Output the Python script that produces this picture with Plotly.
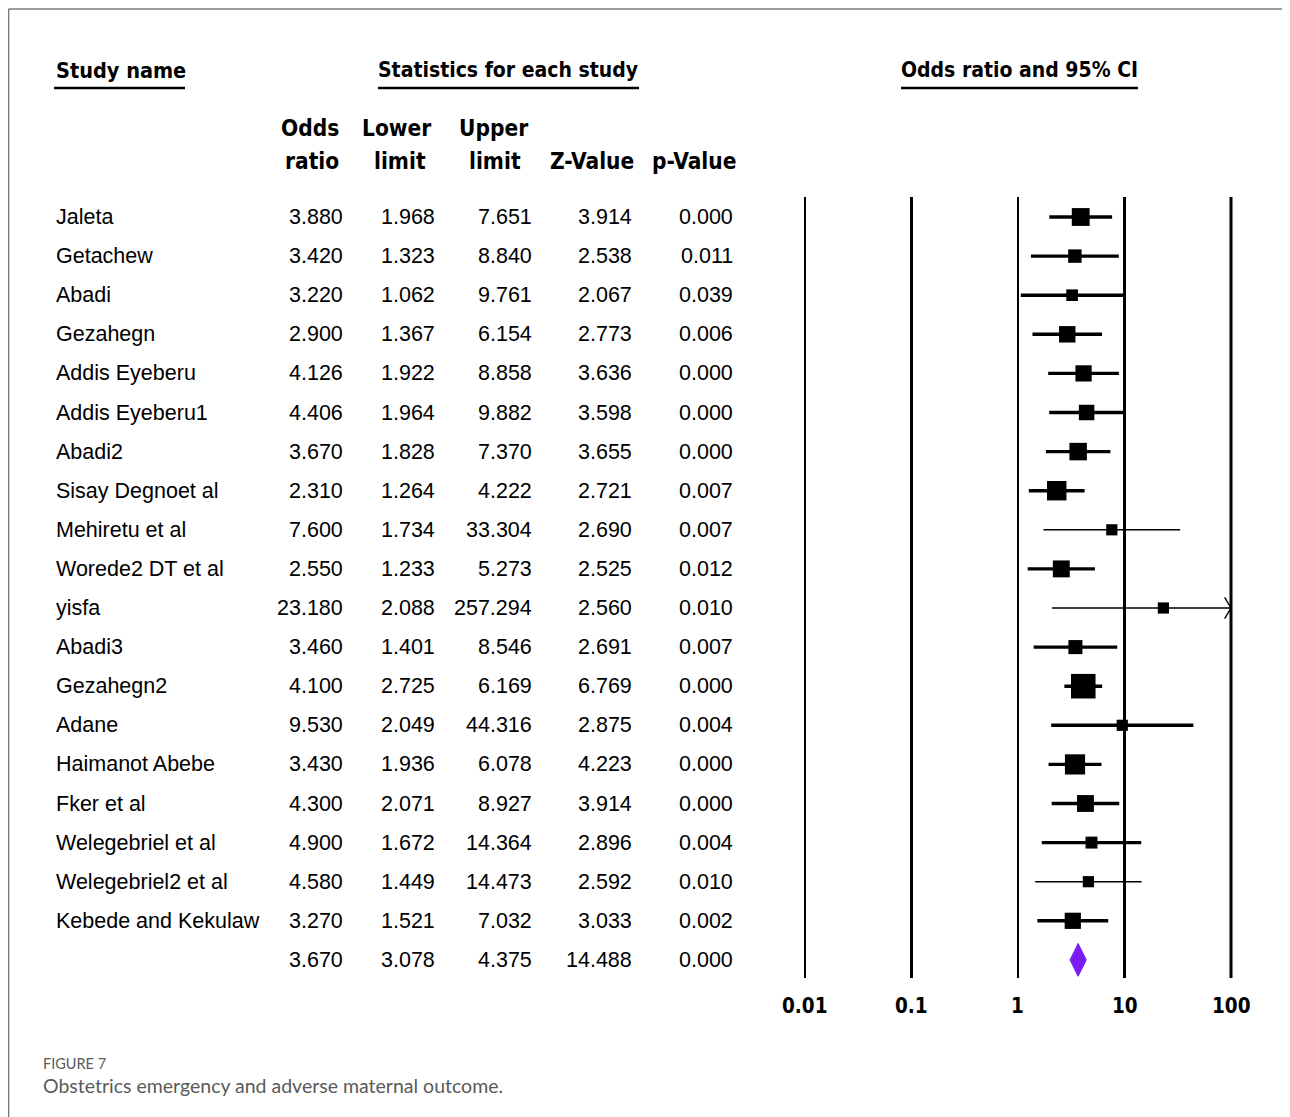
import math
import plotly.graph_objects as go

# ---------------- data ----------------
studies = ["Jaleta", "Getachew", "Abadi", "Gezahegn", "Addis Eyeberu", "Addis Eyeberu1",
           "Abadi2", "Sisay Degnoet al", "Mehiretu et al", "Worede2 DT et al", "yisfa",
           "Abadi3", "Gezahegn2", "Adane", "Haimanot Abebe", "Fker et al",
           "Welegebriel et al", "Welegebriel2 et al", "Kebede and Kekulaw"]
odds_ratio = [3.880, 3.420, 3.220, 2.900, 4.126, 4.406, 3.670, 2.310, 7.600, 2.550, 23.180,
              3.460, 4.100, 9.530, 3.430, 4.300, 4.900, 4.580, 3.270]
lower_limit = [1.968, 1.323, 1.062, 1.367, 1.922, 1.964, 1.828, 1.264, 1.734, 1.233, 2.088,
               1.401, 2.725, 2.049, 1.936, 2.071, 1.672, 1.449, 1.521]
upper_limit = [7.651, 8.840, 9.761, 6.154, 8.858, 9.882, 7.370, 4.222, 33.304, 5.273, 257.294,
               8.546, 6.169, 44.316, 6.078, 8.927, 14.364, 14.473, 7.032]
z_value = [3.914, 2.538, 2.067, 2.773, 3.636, 3.598, 3.655, 2.721, 2.690, 2.525, 2.560,
           2.691, 6.769, 2.875, 4.223, 3.914, 2.896, 2.592, 3.033]
p_value = [0.000, 0.011, 0.039, 0.006, 0.000, 0.000, 0.000, 0.007, 0.007, 0.012, 0.010,
           0.007, 0.000, 0.004, 0.000, 0.000, 0.004, 0.010, 0.002]
summary = {"or": 3.670, "lower": 3.078, "upper": 4.375, "z": 14.488, "p": 0.000}

tick_values = [0.01, 0.1, 1, 10, 100]
tick_labels = ["0.01", "0.1", "1", "10", "100"]

# ---------------- layout helpers ----------------
OFF = 8                          # page body margin
W, H = 1290 - OFF, 1117 - OFF    # figure size
ROW0, ROWH = 217, 39.1           # page pixel centre of first row, row spacing
X001, DEC = 805, 106.5           # page pixel of 0.01 and pixels per decade
XL, XR = 780, 1262               # forest panel page-pixel extent
thin_rows = {"Mehiretu et al", "yisfa", "Welegebriel2 et al"}

def px(x):
    return (x - OFF) / W

def py(y):
    return 1 - (y - OFF) / H

def row_of_px(y):
    return (y - ROW0) / ROWH

TABLE = "Liberation Sans, Arial, sans-serif"
HEAD = "DejaVu Sans Condensed, DejaVu Sans, sans-serif"

fig = go.Figure()

# reference lines
line_top, line_bot = row_of_px(197), row_of_px(978)
ref_widths = [2, 3, 2, 3, 3]
for v, w in zip(tick_values, ref_widths):
    fig.add_trace(go.Scatter(x=[v, v], y=[line_top, line_bot], mode="lines",
                             line=dict(color="black", width=w), hoverinfo="skip"))

# CI whiskers
xmax = tick_values[-1]
for group_thin in (False, True):
    xs, ys = [], []
    for i, s in enumerate(studies):
        if (s in thin_rows) != group_thin:
            continue
        xs += [lower_limit[i], min(upper_limit[i], xmax), None]
        ys += [i, i, None]
    fig.add_trace(go.Scatter(x=xs, y=ys, mode="lines",
                             line=dict(color="black", width=1.6 if group_thin else 3.4),
                             hoverinfo="skip"))

# arrow heads for CIs beyond the axis
for i, u in enumerate(upper_limit):
    if u > xmax:
        k = 10 ** 0.06
        fig.add_trace(go.Scatter(x=[xmax / k, xmax, xmax / k], y=[i - 0.27, i, i + 0.27],
                                 mode="lines", line=dict(color="black", width=1.4),
                                 hoverinfo="skip"))

# weight-based square sizes (random-effects style)
tau2 = 0.05
sizes = []
for lo, up in zip(lower_limit, upper_limit):
    se = (math.log(up) - math.log(lo)) / 3.92
    w = 1 / (se ** 2 + tau2)
    sizes.append(1.12 * max(10, 7.1 * math.sqrt(w) - 1.3))

fig.add_trace(go.Scatter(x=odds_ratio, y=list(range(len(studies))), mode="markers",
                         marker=dict(symbol="square", size=sizes, color="black", opacity=1,
                                     line=dict(width=0)),
                         hoverinfo="skip"))

# summary diamond
sr = len(studies)
fig.add_trace(go.Scatter(x=[summary["lower"], summary["or"], summary["upper"], summary["or"], summary["lower"]],
                         y=[sr, sr - 0.42, sr, sr + 0.42, sr], mode="lines", fill="toself",
                         fillcolor="#7b1cf5", line=dict(color="#7b1cf5", width=1),
                         hoverinfo="skip"))

ann = []

def text(x, y, t, size=21.5, anchor="right", family=TABLE, color="black", bold=False):
    if bold:
        t = "<b>" + t + "</b>"
    ann.append(dict(x=x, y=y, xref="paper", yref="y", text=t, showarrow=False,
                    xanchor=anchor, yanchor="middle",
                    font=dict(family=family, size=size, color=color)))

col_right = [345, 437, 534, 634, 735]
for i, s in enumerate(studies):
    text(px(54), i, s, anchor="left")
    vals = [odds_ratio[i], lower_limit[i], upper_limit[i], z_value[i], p_value[i]]
    for c, v in zip(col_right, vals):
        text(px(c), i, f"{v:.3f}")
svals = [summary["or"], summary["lower"], summary["upper"], summary["z"], summary["p"]]
for c, v in zip(col_right, svals):
    text(px(c), sr, f"{v:.3f}")

# headers
text(px(54), row_of_px(70), "Study name", size=21.5, anchor="left", family=HEAD, bold=True)
text(px(508), row_of_px(70), "Statistics for each study", size=21, anchor="center", family=HEAD, bold=True)
text(px(1019), row_of_px(70), "Odds ratio and 95% CI", size=21, anchor="center", family=HEAD, bold=True)
underlines = [(54, 185), (378, 639), (901, 1138)]

sub1 = [("Odds", 310), ("Lower", 396), ("Upper", 493)]
sub2 = [("ratio", 312), ("limit", 400), ("limit", 495), ("Z-Value", 592), ("p-Value", 694)]
for t, x in sub1:
    text(px(x), row_of_px(128), t, size=22.5, anchor="center", family=HEAD, bold=True)
for t, x in sub2:
    text(px(x), row_of_px(161), t, size=22.5, anchor="center", family=HEAD, bold=True)

# axis tick labels
for v, lab in zip(tick_values, tick_labels):
    ann.append(dict(x=math.log10(v), y=row_of_px(1006), xref="x", yref="y", text="<b>" + lab + "</b>",
                    showarrow=False, xanchor="center", yanchor="middle",
                    font=dict(family=HEAD, size=20.5, color="black")))

# caption
ann.append(dict(x=px(41), y=py(1063), xref="paper", yref="paper", text="FIGURE 7",
                showarrow=False, xanchor="left", yanchor="middle",
                font=dict(family="Lato, Open Sans, sans-serif", size=14.5, color="#5a5a5a")))
ann.append(dict(x=px(41), y=py(1085), xref="paper", yref="paper",
                text="Obstetrics emergency and adverse maternal outcome.",
                showarrow=False, xanchor="left", yanchor="middle",
                font=dict(family="Lato, Open Sans, sans-serif", size=19.5, color="#5a5a5a")))

shapes = []
for a, b in underlines:
    shapes.append(dict(type="line", xref="paper", yref="paper", x0=px(a), x1=px(b),
                       y0=py(88), y1=py(88), line=dict(color="black", width=2.5)))
# figure frame
shapes.append(dict(type="line", xref="paper", yref="paper", x0=0.6 / W, x1=1.0,
                   y0=py(9), y1=py(9), line=dict(color="#7a7a7a", width=1.5)))
shapes.append(dict(type="line", xref="paper", yref="paper", x0=0.6 / W, x1=0.6 / W,
                   y0=py(9), y1=0, line=dict(color="#7a7a7a", width=1.5)))

fig.update_layout(
    width=W, height=H, autosize=False,
    margin=dict(l=0, r=0, t=0, b=0),
    paper_bgcolor="white", plot_bgcolor="rgba(0,0,0,0)",
    showlegend=False,
    xaxis=dict(type="log", domain=[px(XL), px(XR)],
               range=[-2 - (X001 - XL) / DEC, -2 + (XR - X001) / DEC],
               showgrid=False, zeroline=False, showticklabels=False, ticks="", showline=False),
    yaxis=dict(domain=[0, 1], range=[row_of_px(1117), row_of_px(OFF)],
               showgrid=False, zeroline=False, showticklabels=False, ticks="", showline=False),
    annotations=ann, shapes=shapes,
)

fig.write_html("out.html")
